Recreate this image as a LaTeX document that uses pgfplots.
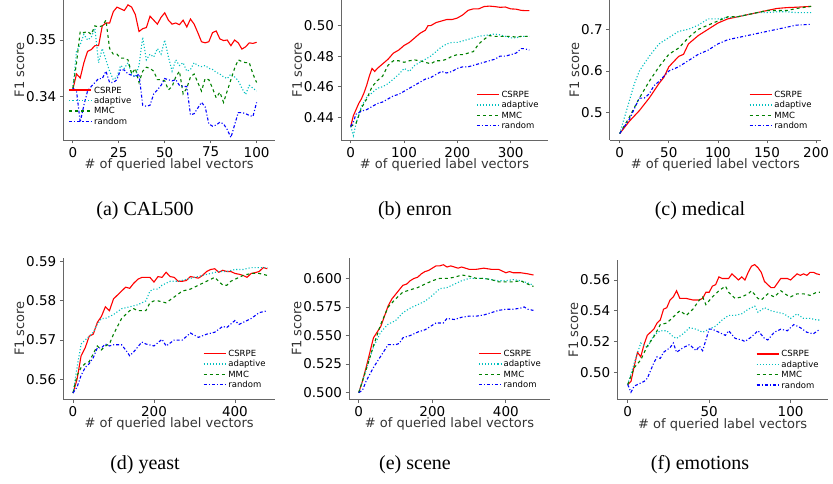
\documentclass[border=0pt]{standalone}
\usepackage{pgfplots}
\pgfplotsset{compat=1.18}
\usepackage{fontspec}
\setmainfont{DejaVu Sans}
\newfontfamily\capfont{Liberation Serif}
\definecolor{mc}{rgb}{0,0.75,0.75}
\definecolor{mg}{rgb}{0,0.5,0}
\pgfplotsset{panel/.style={scale only axis, axis x line*=bottom, axis y line*=left,
  axis line style={black!60, line width=0.8pt}, tick align=outside, tick style={black!60, line width=0.8pt}, major tick length=3.5pt,
  /pgf/number format/assume math mode=true,
  ticklabel style={font=\fontsize{13.5}{15}\selectfont},
  label style={font=\fontsize{13}{15}\selectfont, black!80},
  xlabel={\# of queried label vectors}, ylabel={F1 score},
  xlabel style={yshift=5pt}, ylabel style={yshift=-5pt},
  legend cell align=left,
  legend style={draw=none, fill=none, font=\fontsize{8.5}{10}\selectfont, at={(0.98,0.04)}, anchor=south east, row sep=-1.5pt},
  legend image code/.code={\path[#1, line width=1.5pt, draw] (0pt,0.5pt) -- (22pt,0.5pt);},
  every axis plot/.append style={line width=1.1pt, mark=none, forget plot}},
  /tikz/line join=round}
\newcommand\legimgs{\addlegendimage{red, solid}\addlegendimage{mc, dotted}\addlegendimage{mg, dashed}\addlegendimage{blue, dash dot}\legend{CSRPE,adaptive,MMC,random}}
\begin{document}
\begin{tikzpicture}[x=1pt,y=1pt]
\useasboundingbox (0,0) rectangle (833,483);
% (a)
\begin{axis}[panel, at={(63.3pt,343pt)}, anchor=south west, width=211.7pt, height=140pt,
 xmin=-5.2, xmax=110, ymin=0.33236, ymax=0.35706, xtick={0,25,50,75,100}, ytick={0.34,0.35},
 yticklabel style={/pgf/number format/.cd, fixed, precision=2},
 legend style={at={(0.01,0.41)}, anchor=north west}]
\addplot[red, solid] coordinates {(0,0.3413)(2,0.344)(4,0.3433)(6,0.346)(8,0.348)(10,0.3483)(12,0.349)(14,0.349)(16,0.3525)(18,0.353)(20,0.353)(22,0.355)(24,0.3558)(26,0.3555)(28,0.3552)(30,0.3562)(32,0.3558)(34,0.3545)(36,0.3515)(38,0.352)(40,0.3522)(42,0.3542)(44,0.3535)(46,0.3528)(48,0.354)(50,0.3548)(52,0.3535)(54,0.3528)(56,0.353)(58,0.3527)(60,0.3535)(62,0.3523)(64,0.3537)(66,0.3528)(68,0.3513)(70,0.3497)(72,0.3495)(74,0.3497)(76,0.3513)(78,0.3516)(80,0.3502)(82,0.3499)(84,0.35)(86,0.349)(88,0.35)(90,0.3495)(92,0.3484)(94,0.3488)(96,0.3495)(98,0.3494)(100,0.3496)};
\addplot[mc, dotted] coordinates {(0,0.3413)(2,0.348)(4,0.3492)(6,0.351)(8,0.35)(10,0.3505)(12,0.352)(14,0.346)(16,0.3485)(18,0.3465)(20,0.3445)(22,0.343)(24,0.3435)(26,0.3455)(28,0.345)(30,0.346)(32,0.344)(34,0.3435)(36,0.3455)(38,0.3505)(40,0.3465)(42,0.3475)(44,0.347)(46,0.3485)(48,0.3475)(50,0.350)(52,0.347)(54,0.3445)(56,0.3465)(58,0.3455)(60,0.346)(62,0.3445)(64,0.3448)(66,0.346)(68,0.3455)(70,0.3453)(72,0.3455)(74,0.345)(76,0.3448)(78,0.3443)(80,0.344)(82,0.3435)(84,0.3432)(86,0.344)(88,0.3435)(90,0.3428)(92,0.3415)(94,0.3404)(96,0.342)(98,0.3415)(100,0.341)};
\addplot[mg, dashed] coordinates {(0,0.3415)(2,0.346)(4,0.3515)(6,0.3513)(8,0.3515)(10,0.351)(12,0.3525)(14,0.3523)(16,0.3525)(18,0.3535)(20,0.3485)(22,0.3475)(24,0.3475)(26,0.3468)(28,0.3468)(30,0.3465)(32,0.344)(34,0.345)(36,0.3425)(38,0.3445)(40,0.3452)(42,0.345)(44,0.3445)(46,0.343)(48,0.343)(50,0.3428)(52,0.3412)(54,0.3418)(56,0.3435)(58,0.3445)(60,0.3405)(62,0.3415)(64,0.3435)(66,0.344)(68,0.3425)(70,0.341)(72,0.3432)(74,0.343)(76,0.3415)(78,0.3398)(80,0.3408)(82,0.339)(84,0.341)(86,0.343)(88,0.345)(90,0.3465)(92,0.3462)(94,0.346)(96,0.346)(98,0.344)(100,0.3425)};
\addplot[blue, dash dot] coordinates {(0,0.3415)(2,0.341)(4,0.3355)(6,0.3385)(8,0.341)(10,0.3418)(12,0.3425)(14,0.3432)(16,0.3432)(18,0.3445)(20,0.3425)(22,0.3425)(24,0.343)(26,0.3448)(28,0.3447)(30,0.344)(32,0.3438)(34,0.3435)(36,0.344)(38,0.3385)(40,0.3383)(42,0.3385)(44,0.3405)(46,0.3412)(48,0.342)(50,0.3432)(52,0.343)(54,0.3428)(56,0.343)(58,0.342)(60,0.3418)(62,0.3418)(64,0.3368)(66,0.337)(68,0.338)(70,0.339)(72,0.3382)(74,0.3352)(76,0.3348)(78,0.335)(80,0.3355)(82,0.3352)(84,0.3342)(86,0.3328)(88,0.335)(90,0.3372)(92,0.3372)(94,0.337)(96,0.3367)(98,0.3365)(100,0.339)};
\legimgs
\end{axis}
% (b)
\begin{axis}[panel, at={(341pt,343pt)}, anchor=south west, width=207pt, height=140pt,
 xmin=-18.2, xmax=370, ymin=0.4251, ymax=0.5168, xtick={0,100,200,300}, ytick={0.44,0.46,0.48,0.50},
 yticklabel style={/pgf/number format/.cd, fixed, fixed zerofill, precision=2}]
\addplot[red, solid] coordinates {(0,0.434)(5,0.441)(10,0.445)(15,0.449)(20,0.452)(25,0.456)(30,0.461)(35,0.467)(40,0.472)(45,0.470)(50,0.472)(60,0.475)(70,0.478)(80,0.482)(90,0.484)(100,0.487)(110,0.489)(120,0.492)(130,0.495)(140,0.497)(145,0.500)(150,0.500)(160,0.502)(170,0.503)(180,0.504)(190,0.504)(200,0.505)(210,0.507)(220,0.510)(230,0.511)(240,0.511)(250,0.5125)(260,0.5128)(270,0.5125)(280,0.512)(290,0.5122)(300,0.511)(310,0.5108)(320,0.510)(330,0.5098)(335,0.5098)};
\addplot[mc, dotted] coordinates {(0,0.434)(5,0.428)(10,0.436)(20,0.447)(30,0.453)(40,0.456)(50,0.459)(60,0.460)(70,0.462)(80,0.465)(90,0.468)(100,0.472)(110,0.470)(120,0.474)(130,0.476)(140,0.478)(150,0.480)(160,0.483)(170,0.486)(180,0.488)(190,0.489)(200,0.489)(210,0.490)(220,0.491)(230,0.492)(240,0.493)(250,0.4935)(260,0.494)(270,0.4945)(280,0.494)(290,0.493)(300,0.492)(310,0.492)(320,0.493)(335,0.493)};
\addplot[mg, dashed] coordinates {(0,0.434)(10,0.436)(20,0.446)(30,0.452)(40,0.460)(50,0.464)(60,0.467)(70,0.474)(80,0.477)(90,0.477)(100,0.476)(110,0.477)(120,0.4775)(130,0.477)(140,0.476)(150,0.475)(160,0.477)(170,0.477)(180,0.478)(190,0.480)(200,0.481)(210,0.481)(220,0.482)(230,0.483)(240,0.488)(250,0.491)(260,0.4935)(270,0.493)(280,0.493)(290,0.493)(300,0.493)(310,0.4925)(320,0.493)(335,0.493)};
\addplot[blue, dash dot] coordinates {(0,0.434)(5,0.437)(10,0.442)(20,0.444)(30,0.445)(40,0.447)(50,0.449)(60,0.450)(70,0.452)(80,0.454)(90,0.455)(100,0.457)(110,0.459)(120,0.461)(130,0.463)(140,0.465)(150,0.466)(160,0.468)(170,0.470)(180,0.469)(190,0.470)(200,0.472)(210,0.473)(220,0.473)(230,0.474)(240,0.475)(250,0.476)(260,0.477)(270,0.478)(280,0.480)(290,0.480)(300,0.481)(310,0.482)(320,0.485)(325,0.485)(335,0.484)};
\legimgs
\end{axis}
% (c)
\begin{axis}[panel, at={(609.7pt,343pt)}, anchor=south west, width=211.3pt, height=140pt,
 xmin=-10.2, xmax=205, ymin=0.4345, ymax=0.7703, xtick={0,50,100,150,200}, ytick={0.5,0.6,0.7},
 yticklabel style={/pgf/number format/.cd, fixed, fixed zerofill, precision=1}]
\addplot[red, solid] coordinates {(0,0.45)(10,0.48)(20,0.505)(30,0.535)(40,0.57)(45,0.585)(50,0.61)(60,0.635)(65,0.64)(70,0.665)(80,0.685)(90,0.70)(100,0.715)(110,0.725)(120,0.73)(130,0.735)(140,0.74)(150,0.745)(160,0.75)(170,0.752)(180,0.753)(195,0.755)};
\addplot[mc, dotted] coordinates {(0,0.45)(5,0.49)(10,0.53)(15,0.57)(20,0.60)(30,0.635)(40,0.665)(50,0.68)(60,0.695)(70,0.70)(80,0.71)(90,0.725)(100,0.725)(110,0.728)(120,0.73)(130,0.735)(140,0.74)(150,0.74)(160,0.742)(170,0.742)(180,0.74)(195,0.74)};
\addplot[mg, dashed] coordinates {(0,0.45)(10,0.49)(20,0.535)(30,0.575)(40,0.61)(50,0.64)(60,0.655)(70,0.68)(80,0.70)(90,0.71)(100,0.72)(110,0.73)(120,0.73)(130,0.735)(140,0.74)(150,0.745)(160,0.745)(170,0.745)(180,0.75)(195,0.755)};
\addplot[blue, dash dot] coordinates {(0,0.45)(10,0.485)(20,0.535)(25,0.535)(30,0.545)(35,0.565)(40,0.575)(50,0.60)(60,0.61)(70,0.625)(80,0.64)(90,0.65)(100,0.665)(110,0.675)(120,0.68)(130,0.685)(140,0.69)(150,0.695)(160,0.70)(170,0.705)(180,0.71)(195,0.712)};
\legimgs
\end{axis}
% (d)
\begin{axis}[panel, at={(63.3pt,84pt)}, anchor=south west, width=211.7pt, height=141pt,
 xmin=-24, xmax=499, ymin=0.55497, ymax=0.59094, xtick={0,200,400}, ytick={0.56,0.57,0.58,0.59},
 yticklabel style={/pgf/number format/.cd, fixed, fixed zerofill, precision=2}]
\addplot[red, solid] coordinates {(0,0.5565)(10,0.560)(20,0.566)(30,0.568)(40,0.571)(50,0.5715)(60,0.5745)(70,0.576)(80,0.5785)(90,0.5775)(100,0.5805)(110,0.5815)(120,0.5825)(130,0.5835)(140,0.5832)(150,0.5845)(160,0.5855)(170,0.586)(180,0.586)(190,0.586)(200,0.5848)(210,0.5862)(220,0.586)(230,0.5873)(240,0.5862)(250,0.586)(260,0.585)(270,0.585)(280,0.5852)(290,0.5862)(300,0.586)(310,0.5858)(320,0.5865)(330,0.5875)(340,0.588)(350,0.5882)(360,0.5873)(370,0.5878)(380,0.5875)(390,0.5875)(400,0.587)(410,0.5868)(420,0.5865)(430,0.586)(440,0.587)(450,0.5872)(460,0.5875)(470,0.5885)(480,0.5882)};
\addplot[mc, dotted] coordinates {(0,0.5565)(10,0.563)(20,0.569)(30,0.570)(40,0.571)(50,0.572)(60,0.574)(70,0.5755)(80,0.5755)(90,0.576)(100,0.5765)(120,0.578)(140,0.5785)(160,0.579)(180,0.580)(190,0.5825)(200,0.583)(210,0.583)(220,0.584)(240,0.585)(260,0.585)(280,0.5855)(300,0.586)(320,0.5865)(340,0.587)(360,0.5875)(380,0.5875)(400,0.588)(420,0.588)(440,0.5885)(460,0.5885)(480,0.5885)};
\addplot[mg, dashed] coordinates {(0,0.5565)(10,0.561)(20,0.563)(30,0.564)(40,0.5645)(50,0.5665)(60,0.5685)(70,0.5675)(80,0.5685)(90,0.569)(100,0.5715)(110,0.5735)(120,0.5755)(130,0.5765)(140,0.5775)(150,0.578)(160,0.5775)(180,0.5775)(190,0.5795)(200,0.580)(210,0.580)(230,0.5795)(250,0.581)(270,0.5825)(290,0.583)(310,0.584)(330,0.585)(350,0.586)(360,0.585)(370,0.584)(380,0.584)(390,0.585)(400,0.5855)(420,0.5865)(440,0.587)(460,0.587)(480,0.5865)};
\addplot[blue, dash dot] coordinates {(0,0.5565)(10,0.558)(20,0.561)(30,0.563)(40,0.564)(50,0.5655)(60,0.568)(70,0.568)(80,0.569)(90,0.5685)(100,0.5688)(120,0.5688)(130,0.5675)(140,0.566)(150,0.567)(170,0.5695)(180,0.569)(200,0.5685)(220,0.5702)(230,0.5685)(250,0.570)(270,0.570)(290,0.5718)(310,0.5707)(330,0.5715)(350,0.572)(370,0.5735)(380,0.5732)(400,0.575)(410,0.574)(420,0.5745)(440,0.5755)(460,0.577)(480,0.5775)};
\legimgs
\end{axis}
% (e)
\begin{axis}[panel, at={(349pt,84pt)}, anchor=south west, width=201pt, height=141pt,
 xmin=-26.5, xmax=520, ymin=0.4944, ymax=0.6179, xtick={0,200,400}, ytick={0.5,0.525,0.55,0.575,0.6},
 yticklabel style={/pgf/number format/.cd, fixed, fixed zerofill, precision=3}]
\addplot[red, solid] coordinates {(0,0.500)(10,0.510)(20,0.522)(30,0.535)(40,0.548)(50,0.553)(60,0.558)(70,0.567)(80,0.576)(90,0.582)(100,0.586)(110,0.590)(120,0.594)(130,0.595)(140,0.598)(150,0.600)(160,0.601)(170,0.604)(180,0.606)(190,0.607)(200,0.609)(210,0.611)(220,0.611)(230,0.612)(240,0.610)(250,0.611)(260,0.610)(270,0.609)(280,0.610)(300,0.608)(320,0.608)(340,0.609)(360,0.608)(380,0.608)(400,0.605)(410,0.606)(420,0.605)(440,0.605)(460,0.604)(475,0.603)};
\addplot[mc, dotted] coordinates {(0,0.500)(20,0.520)(40,0.540)(60,0.553)(80,0.560)(100,0.563)(120,0.570)(140,0.574)(160,0.577)(180,0.580)(200,0.585)(220,0.591)(240,0.592)(260,0.595)(280,0.598)(300,0.600)(320,0.600)(340,0.600)(360,0.599)(380,0.598)(400,0.598)(420,0.599)(440,0.598)(460,0.596)(475,0.594)};
\addplot[mg, dashed] coordinates {(0,0.500)(20,0.520)(40,0.541)(60,0.560)(80,0.575)(100,0.582)(120,0.588)(140,0.590)(160,0.592)(180,0.595)(200,0.598)(220,0.600)(240,0.600)(260,0.601)(280,0.603)(300,0.602)(320,0.600)(340,0.600)(360,0.599)(380,0.597)(400,0.597)(420,0.597)(440,0.598)(460,0.595)(475,0.593)};
\addplot[blue, dash dot] coordinates {(0,0.500)(10,0.502)(20,0.510)(40,0.522)(60,0.532)(80,0.542)(100,0.542)(110,0.543)(120,0.548)(140,0.550)(160,0.553)(180,0.555)(200,0.559)(210,0.561)(230,0.561)(240,0.565)(260,0.564)(280,0.566)(300,0.567)(320,0.567)(340,0.568)(360,0.570)(380,0.572)(400,0.573)(420,0.573)(440,0.574)(450,0.575)(460,0.573)(475,0.572)};
\legimgs
\end{axis}
% (f)
\begin{axis}[panel, at={(617.3pt,83.7pt)}, anchor=south west, width=210.7pt, height=139.3pt,
 xmin=-6.4, xmax=123, ymin=0.4824, ymax=0.573, xtick={0,50,100}, ytick={0.50,0.52,0.54,0.56},
 yticklabel style={/pgf/number format/.cd, fixed, fixed zerofill, precision=2}]
\addplot[red, solid] coordinates {(0,0.492)(2,0.494)(4,0.504)(6,0.513)(8,0.510)(10,0.518)(12,0.524)(14,0.526)(16,0.528)(18,0.532)(20,0.534)(22,0.541)(24,0.542)(26,0.547)(28,0.549)(30,0.553)(32,0.548)(36,0.548)(40,0.547)(44,0.547)(46,0.548)(48,0.552)(50,0.552)(52,0.556)(54,0.557)(56,0.562)(58,0.561)(62,0.561)(64,0.564)(66,0.562)(68,0.560)(70,0.562)(72,0.560)(74,0.565)(76,0.569)(78,0.570)(80,0.568)(82,0.565)(84,0.559)(86,0.557)(88,0.555)(90,0.555)(92,0.558)(94,0.561)(96,0.561)(98,0.561)(100,0.560)(102,0.562)(104,0.564)(106,0.563)(108,0.564)(110,0.563)(112,0.565)(114,0.565)(116,0.564)(118,0.5635)};
\addplot[mc, dotted] coordinates {(0,0.492)(4,0.506)(8,0.519)(12,0.516)(16,0.524)(20,0.527)(24,0.527)(28,0.523)(30,0.522)(34,0.525)(38,0.529)(42,0.528)(46,0.526)(50,0.528)(54,0.530)(58,0.534)(62,0.537)(66,0.537)(70,0.538)(74,0.541)(78,0.543)(80,0.539)(84,0.542)(88,0.540)(92,0.539)(96,0.538)(100,0.535)(104,0.538)(108,0.535)(112,0.535)(116,0.534)(118,0.534)};
\addplot[mg, dashed] coordinates {(0,0.492)(4,0.503)(8,0.508)(12,0.517)(16,0.523)(20,0.531)(24,0.532)(28,0.536)(32,0.540)(36,0.537)(40,0.541)(44,0.547)(46,0.549)(48,0.544)(52,0.549)(56,0.553)(60,0.556)(62,0.552)(66,0.548)(70,0.549)(74,0.551)(76,0.553)(80,0.548)(82,0.547)(86,0.551)(90,0.549)(94,0.553)(98,0.550)(100,0.549)(104,0.551)(108,0.551)(112,0.550)(116,0.552)(118,0.552)};
\addplot[blue, dash dot] coordinates {(0,0.492)(2,0.487)(4,0.491)(8,0.493)(10,0.494)(12,0.496)(14,0.501)(16,0.506)(18,0.510)(20,0.509)(22,0.513)(26,0.516)(28,0.519)(30,0.513)(34,0.516)(38,0.518)(40,0.516)(42,0.514)(44,0.517)(46,0.514)(48,0.521)(50,0.528)(52,0.528)(56,0.526)(60,0.524)(62,0.527)(66,0.522)(70,0.521)(72,0.520)(76,0.523)(80,0.527)(84,0.522)(86,0.521)(90,0.526)(94,0.528)(98,0.527)(102,0.531)(106,0.529)(110,0.526)(114,0.525)(118,0.528)};
\legimgs
\end{axis}
\node[font=\capfont\fontsize{20}{22}\selectfont] at (145,272) {(a) CAL500};
\node[font=\capfont\fontsize{20}{22}\selectfont] at (415,272) {(b) enron};
\node[font=\capfont\fontsize{20}{22}\selectfont] at (700,272) {(c) medical};
\node[font=\capfont\fontsize{20}{22}\selectfont] at (145,18) {(d) yeast};
\node[font=\capfont\fontsize{20}{22}\selectfont] at (415,18) {(e) scene};
\node[font=\capfont\fontsize{20}{22}\selectfont] at (700,18) {(f) emotions};
\end{tikzpicture}
\end{document}
